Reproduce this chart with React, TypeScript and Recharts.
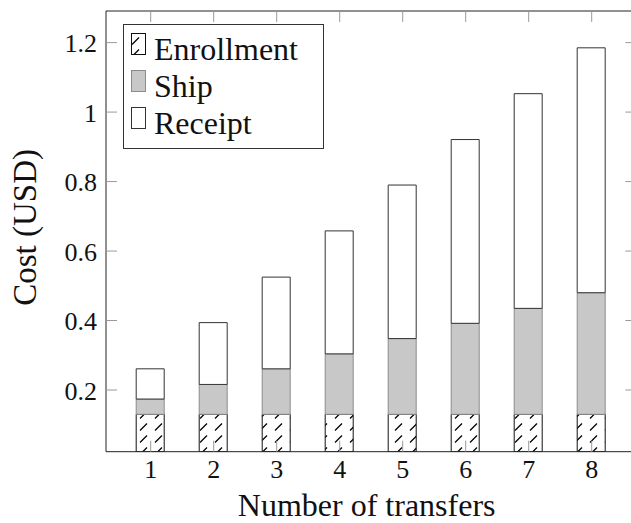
import { BarChart, Bar, XAxis, YAxis, ReferenceLine } from 'recharts';

const transfers = ['1', '2', '3', '4', '5', '6', '7', '8'];
const enrollment = [0.13, 0.13, 0.13, 0.13, 0.13, 0.13, 0.13, 0.13];
const ship = [0.044, 0.086, 0.131, 0.174, 0.218, 0.262, 0.305, 0.35];
const receipt = [0.087, 0.178, 0.264, 0.354, 0.442, 0.529, 0.618, 0.705];
const yTicks = [0.2, 0.4, 0.6, 0.8, 1, 1.2];

const data = transfers.map((t, i) => ({
  name: t,
  Enrollment: enrollment[i],
  Ship: ship[i],
  Receipt: receipt[i],
}));

const W = 640;
const H = 523;
const MARGIN = { top: 11, right: 3.6, bottom: 0, left: 0 };
const PLOT_TOP = MARGIN.top;
const PLOT_RIGHT = W - MARGIN.right;
const Y_MIN = 0.0224;
const Y_MAX = 1.291;
const FONT = '"Liberation Serif", "DejaVu Serif", serif';
const TICK_COLOR = '#999';
const TICK_LEN = 11;

const series = [
  { key: 'Enrollment', fill: 'url(#hatch)', stroke: '#111' },
  { key: 'Ship', fill: '#c8c8c8', stroke: '#8c8c8c' },
  { key: 'Receipt', fill: '#fff', stroke: '#333' },
];

function YTick(props: any) {
  const { x, y, payload } = props;
  const axisX = x + 9;
  return (
    <g>
      <line x1={axisX} x2={axisX + TICK_LEN} y1={y} y2={y} stroke={TICK_COLOR} />
      <line x1={PLOT_RIGHT} x2={PLOT_RIGHT - TICK_LEN} y1={y} y2={y} stroke={TICK_COLOR} />
      <text x={x} y={y + 9.5} textAnchor="end" fontFamily={FONT} fontSize={26} fill="#111">
        {String(payload.value)}
      </text>
    </g>
  );
}

function XTick(props: any) {
  const { x, y, payload } = props;
  return (
    <g>
      <line x1={x} x2={x} y1={y} y2={y - TICK_LEN} stroke={TICK_COLOR} />
      <line x1={x} x2={x} y1={PLOT_TOP} y2={PLOT_TOP + TICK_LEN} stroke={TICK_COLOR} />
      <text x={x} y={y + 26.6} textAnchor="middle" fontFamily={FONT} fontSize={26} fill="#111">
        {payload.value}
      </text>
    </g>
  );
}

function Hatch({ id, ox = 2, oy = 0 }: { id: string; ox?: number; oy?: number }) {
  return (
    <pattern id={id} patternUnits="userSpaceOnUse" width={15} height={12} x={ox} y={oy}>
      <rect width={15} height={12} fill="#fff" />
      <line x1={3} y1={10.5} x2={10} y2={3.5} stroke="#000" strokeWidth={1.2} />
    </pattern>
  );
}

function LegendBox() {
  return (
    <svg
      width={201}
      height={125}
      style={{ position: 'absolute', left: 122.5, top: 23.5 }}
    >
      <defs>
        <Hatch id="hatch-legend" ox={6} oy={10} />
      </defs>
      <rect x={0.5} y={0.5} width={200} height={124} fill="#fff" stroke="#333" />
      {series.map((s, i) => (
        <g key={s.key}>
          <rect
            x={8.5}
            y={9.5 + i * 37}
            width={14}
            height={21}
            fill={s.key === 'Enrollment' ? 'url(#hatch-legend)' : s.fill}
            stroke={s.stroke}
          />
          <text x={31} y={35.8 + i * 37} fontFamily={FONT} fontSize={32} fill="#111">
            {s.key}
          </text>
        </g>
      ))}
    </svg>
  );
}

export default function App() {
  return (
    <div style={{ position: 'absolute', left: 0, top: 0, width: 631, height: 523, overflow: 'hidden', background: '#fff' }}>
      <BarChart width={W} height={H} data={data} margin={MARGIN} barSize={28}>
        <defs>
          <Hatch id="hatch" />
        </defs>
        <YAxis
          type="number"
          domain={[Y_MIN, Y_MAX]}
          ticks={yTicks}
          allowDataOverflow
          width={106}
          tickSize={0}
          tickMargin={9}
          tickLine={false}
          axisLine={{ stroke: '#222' }}
          tick={<YTick />}
          label={{
            content: (p: any) => {
              const vb = p.viewBox || { y: 11, height: 440.7 };
              const cy = vb.y + vb.height / 2 - 4;
              return (
                <text
                  transform={`translate(36, ${cy}) rotate(-90)`}
                  textAnchor="middle"
                  fontFamily={FONT}
                  fontSize={33}
                  fill="#111"
                >
                  Cost (USD)
                </text>
              );
            },
          }}
        />
        {series.map((s) => (
          <Bar
            key={s.key}
            dataKey={s.key}
            stackId="cost"
            fill={s.fill}
            stroke={s.stroke}
            strokeWidth={1}
            isAnimationActive={false}
          />
        ))}
        <ReferenceLine y={Y_MAX} stroke="#222" />
        <XAxis
          dataKey="name"
          padding={{ left: 13.2, right: 13.2 }}
          height={71.3}
          tickSize={0}
          tickMargin={0}
          tickLine={false}
          axisLine={{ stroke: '#222' }}
          tick={<XTick />}
          interval={0}
          label={{
            content: (p: any) => {
              const vb = p.viewBox || { x: 106, y: 451.7, width: 530.4 };
              return (
                <text
                  x={vb.x + vb.width / 2 - 4.5}
                  y={vb.y + 64.5}
                  textAnchor="middle"
                  fontFamily={FONT}
                  fontSize={32}
                  fill="#111"
                >
                  Number of transfers
                </text>
              );
            },
          }}
        />
      </BarChart>
      <LegendBox />
    </div>
  );
}
